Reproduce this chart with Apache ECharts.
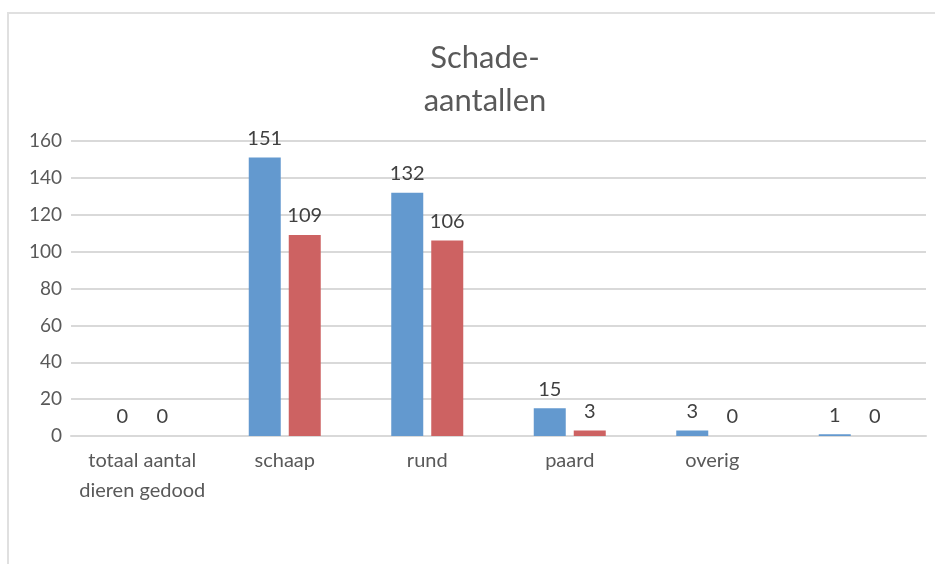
<!DOCTYPE html>
<html>
<head>
<meta charset="utf-8">
<script src="https://cdn.jsdelivr.net/npm/echarts@6/dist/echarts.min.js"></script>
<style>
  html, body { margin: 0; padding: 0; background: #fff; }
</style>
</head>
<body>
<div id="chart" style="width: 935px; height: 564px;"></div>
<script>
// categorieën en waarden
const categories = ["totaal aantal\ndieren gedood", "schaap", "rund", "paard", "overig", ""];
const serieBlauw = [0, 151, 132, 15, 3, 1];
const serieRood = [0, 109, 106, 3, 0, 0];
const yMin = 0;
const yMax = 160;
const yStap = 20;

const font = "Lato, 'Open Sans', sans-serif";

const myChart = echarts.init(document.getElementById("chart"));

const option = {
  animation: false,
  title: {
    text: "Schade-\naantallen",
    left: 480,
    textAlign: "center",
    top: 31,
    textStyle: {
      fontFamily: font,
      fontWeight: "normal",
      fontSize: 31,
      lineHeight: 43,
      color: "#595959"
    }
  },
  graphic: [
    {
      type: "rect",
      shape: { x: 8, y: 13, width: 960, height: 600 },
      style: { fill: "none", stroke: "#e0e0e0", lineWidth: 2 },
      silent: true
    }
  ],
  grid: {
    left: 71,
    right: 9,
    top: 141,
    bottom: 128,
    containLabel: false
  },
  xAxis: {
    type: "category",
    data: categories,
    axisLine: { show: true, lineStyle: { color: "#d9d9d9", width: 2 } },
    axisTick: { show: false },
    axisLabel: {
      fontFamily: font,
      fontSize: 20,
      lineHeight: 30,
      color: "#595959",
      margin: 10,
      interval: 0
    }
  },
  yAxis: {
    type: "value",
    min: yMin,
    max: yMax,
    interval: yStap,
    axisLine: { show: false },
    axisTick: { show: false },
    splitLine: { lineStyle: { color: "#d9d9d9", width: 2 } },
    axisLabel: {
      fontFamily: font,
      fontSize: 19,
      color: "#595959",
      margin: 9
    }
  },
  series: [
    {
      name: "blauw",
      type: "bar",
      data: serieBlauw,
      barWidth: 32,
      barGap: "25%",
      itemStyle: { color: "#6399cf" },
      label: {
        show: true,
        position: "top",
        distance: 9,
        fontFamily: font,
        fontSize: 20,
        color: "#404040"
      }
    },
    {
      name: "rood",
      type: "bar",
      data: serieRood,
      barWidth: 32,
      barGap: "25%",
      itemStyle: { color: "#cd6262" },
      label: {
        show: true,
        position: "top",
        distance: 9,
        fontFamily: font,
        fontSize: 20,
        color: "#404040"
      }
    }
  ]
};

myChart.setOption(option);
</script>
</body>
</html>
